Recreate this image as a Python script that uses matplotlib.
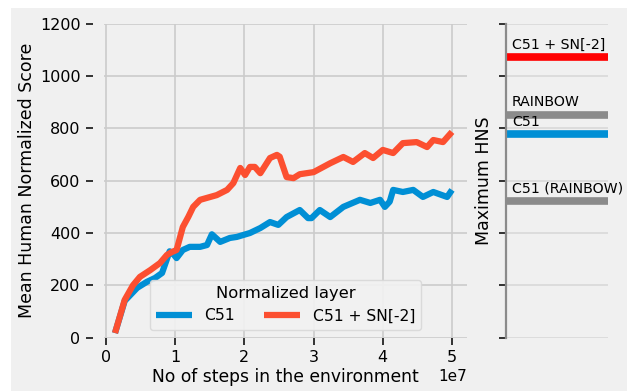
# C51 vs C51 + SN[-2] : mean human normalized score + max HNS panel

import numpy as np
import matplotlib
matplotlib.use('Agg')
import matplotlib.pyplot as plt
from matplotlib.patches import Rectangle

plt.style.use('fivethirtyeight')
plt.rcParams['font.family'] = ['DejaVu Sans']

# steps are in millions
c51_steps = [1.3, 2.7, 4.5, 5.9, 7.1, 8.1, 8.8, 9.2, 9.7, 10.2, 11.1, 12.1, 13.1, 13.6,
             14.6, 15.3, 16.5, 17.9, 18.9, 20.8, 22.3, 23.7, 24.9, 26.1, 28.0, 29.2,
             29.7, 30.9, 32.4, 34.3, 36.7, 38.2, 39.6, 40.3, 41.0, 41.5, 42.9, 44.4,
             45.8, 47.3, 49.3, 50.0]
c51_score = [17, 140, 190, 213, 228, 247, 300, 330, 320, 304, 335, 347, 347, 347,
             354, 395, 366, 381, 385, 400, 419, 442, 431, 461, 488, 457,
             457, 488, 461, 500, 527, 515, 527, 500, 520, 565, 557, 565,
             538, 557, 538, 565]

sn_steps = [1.3, 2.7, 3.9, 4.9, 6.4, 7.8, 8.8, 9.5, 10.2, 11.1, 11.9, 12.6, 13.6, 16.0,
            17.5, 18.4, 19.4, 20.1, 20.8, 21.5, 22.3, 23.7, 24.7, 25.1, 26.1, 27.1,
            28.0, 29.0, 30.0, 32.4, 34.3, 35.7, 37.4, 38.6, 40.0, 41.5, 42.9, 44.9,
            46.4, 47.3, 48.7, 50.0]
sn_score = [17, 144, 200, 232, 258, 285, 316, 327, 335, 423, 462, 500, 527, 545,
            565, 591, 649, 622, 653, 653, 629, 687, 699, 692, 614, 610,
            625, 629, 633, 667, 691, 672, 706, 687, 718, 706, 744, 748,
            729, 756, 748, 787]

max_names = ['C51 + SN[-2]', 'RAINBOW', 'C51', 'C51 (RAINBOW)']
max_values = [1072, 853, 778, 522]
max_colors = ['red', '#8b8b8b', '#008fd5', '#8b8b8b']

W, H = 627, 391
fig = plt.figure(figsize=(W / 100, H / 100), dpi=100, facecolor='white')
fig.patches.append(Rectangle((11 / W, 0), 1, (H - 8) / H, transform=fig.transFigure,
                             facecolor='#f0f0f0', edgecolor='none', zorder=-10))

def px_axes(l, t, r, b):
    return fig.add_axes([l / W, (H - b) / H, (r - l) / W, (b - t) / H])

ax = px_axes(104, 24, 467, 337.5)
ax2 = px_axes(506, 24, 608, 337.5)

# main plot
ax.plot(np.array(c51_steps) * 1e6, c51_score, color='#008fd5', lw=4.5, label='C51')
ax.plot(np.array(sn_steps) * 1e6, sn_score, color='#fc4f30', lw=4.5, label='C51 + SN[-2]')
ax.set_xlim(-0.029e7, 5.217e7)
ax.set_ylim(0, 1200)
ax.set_yticks(range(0, 1201, 200))
ax.set_xticks([0, 1e7, 2e7, 3e7, 4e7, 5e7])
ax.grid(True, color='#cbcbcb', lw=1.2)
for s in ax.spines.values():
    s.set_visible(False)
ax.spines['left'].set_position(('outward', 8))
ax.tick_params(axis='both', which='major', length=5, width=1.3, color='#222222',
               labelsize=11.5, pad=4)
ax.xaxis.get_offset_text().set_fontsize(11)
ax.set_xlabel('No of steps in the environment', fontsize=12.3, labelpad=2)
ax.set_ylabel('Mean Human Normalized Score', fontsize=12.5, labelpad=3)
leg = ax.legend(title='Normalized layer', ncol=2, loc='lower center', fontsize=11.2,
                title_fontsize=11.8, handlelength=2.3, columnspacing=1.9, fancybox=True,
                facecolor='#f2f2f2', edgecolor='#d8d8d8', framealpha=0.9)
leg.get_frame().set_linewidth(1.0)

# max HNS panel
ax2.set_facecolor('#f0f0f0')
ax2.set_ylim(0, 1200)
ax2.set_xlim(0, 1)
ax2.set_yticks(range(0, 1201, 200))
ax2.set_xticks([])
ax2.set_yticklabels([])
ax2.grid(False)
ax2.yaxis.grid(True, color='#d8d8d8', lw=1.2)
for s in ['top', 'right', 'bottom']:
    ax2.spines[s].set_visible(False)
ax2.spines['left'].set_color('#8b8b8b')
ax2.spines['left'].set_linewidth(1.6)
ax2.tick_params(axis='y', length=5, width=1.3, color='#222222')
for name, val, col in zip(max_names, max_values, max_colors):
    ax2.axhline(val, color=col, lw=5.5, solid_capstyle='butt')
    ax2.text(0.06, val + 20, name, fontsize=10.2, va='bottom', ha='left', clip_on=False)
ax2.set_ylabel('Maximum HNS', fontsize=12.5, labelpad=1)

fig.savefig('out.png', dpi=100, facecolor='white')
